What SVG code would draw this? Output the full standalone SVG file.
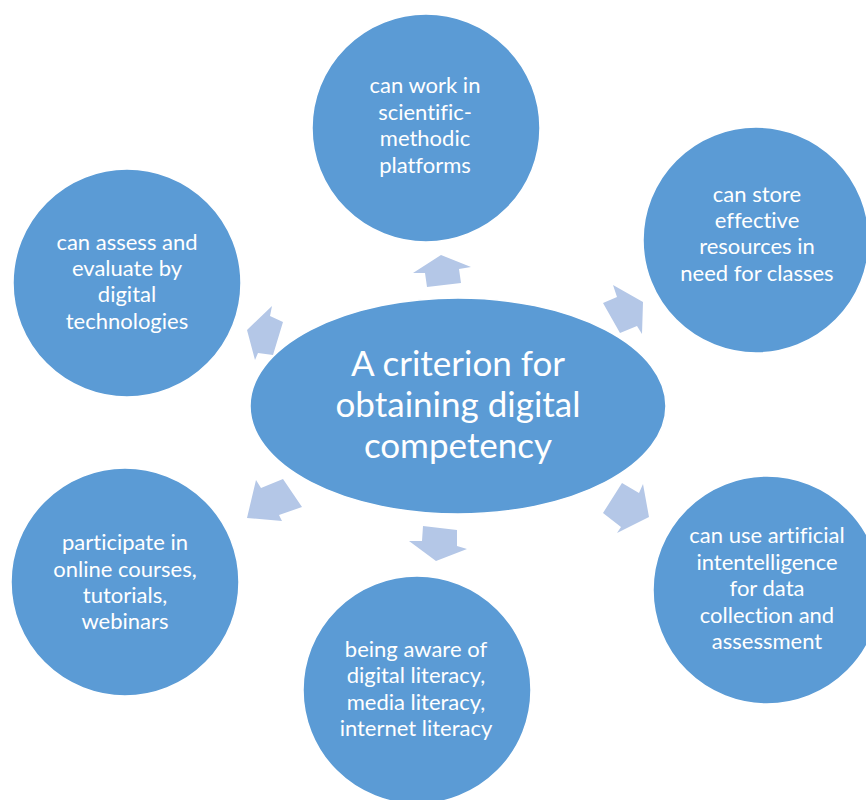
<svg xmlns="http://www.w3.org/2000/svg" width="866" height="800" viewBox="0 0 866 800">
  <style>
    .node { fill: #5B9BD5; stroke: #ffffff; stroke-width: 1.5; }
    .arrow { fill: #B4C7E7; stroke: none; }
    .label { font-family: Lato, "Open Sans", "Liberation Sans", sans-serif; fill: #ffffff; text-anchor: middle; font-size: 22px; font-variant-ligatures: none; }
    .title { font-size: 35px; }
  </style>
  <rect width="866" height="800" fill="#ffffff"/>

  <!-- connectors: block arrows pointing outward from the hub -->
  <g id="connectors">
    <polygon class="arrow" points="441,255 471,267 459,269 461,283 427,287 425,273 413,273"/>
    <polygon class="arrow" points="643,302 642,334 637,326 620,333 603,303 617,297 613,285"/>
    <polygon class="arrow" points="247,330 272,306 270,316 283,322 273,355 258,353 255,360"/>
    <polygon class="arrow" points="247,518 256,480 261,488 283,479 302,507 279,515 282,521"/>
    <polygon class="arrow" points="436,561 467,549 457,546 457,530 423,526 422,541 409,541"/>
    <polygon class="arrow" points="649,517 643,484 639,493 622,483 603,513 621,527 617,533"/>
  </g>

  <g id="hub">
    <ellipse class="node" cx="458" cy="406" rx="208" ry="108"/>
    <text class="label title" x="458" y="376">A criterion for</text>
    <text class="label title" x="458" y="417">obtaining digital</text>
    <text class="label title" x="458" y="458">competency</text>
  </g>

  <g id="node-platforms">
    <circle class="node" cx="426" cy="128" r="114"/>
    <text class="label" x="425" y="93">can work in</text>
    <text class="label" x="425" y="120">scientific-</text>
    <text class="label" x="425" y="146">methodic</text>
    <text class="label" x="425" y="173">platforms</text>
  </g>

  <g id="node-resources">
    <circle class="node" cx="756" cy="240" r="113"/>
    <text class="label" x="757" y="202">can store</text>
    <text class="label" x="757" y="228">effective</text>
    <text class="label" x="757" y="254">resources in</text>
    <text class="label" x="757" y="281">need for classes</text>
  </g>

  <g id="node-assess">
    <circle class="node" cx="127" cy="283" r="114"/>
    <text class="label" x="127" y="250">can assess and</text>
    <text class="label" x="127" y="276">evaluate by</text>
    <text class="label" x="127" y="302">digital</text>
    <text class="label" x="127" y="329">technologies</text>
  </g>

  <g id="node-courses">
    <circle class="node" cx="125" cy="582" r="114"/>
    <text class="label" x="125" y="550">participate in</text>
    <text class="label" x="125" y="577">online courses,</text>
    <text class="label" x="125" y="603">tutorials,</text>
    <text class="label" x="125" y="629">webinars</text>
  </g>

  <g id="node-literacy">
    <circle class="node" cx="417" cy="690" r="114"/>
    <text class="label" x="416" y="657">being aware of</text>
    <text class="label" x="416" y="683">digital literacy,</text>
    <text class="label" x="416" y="710">media literacy,</text>
    <text class="label" x="416" y="736">internet literacy</text>
  </g>

  <g id="node-ai">
    <circle class="node" cx="767" cy="590" r="114"/>
    <text class="label" x="767" y="543">can use artificial</text>
    <text class="label" x="767" y="570">intentelligence</text>
    <text class="label" x="767" y="596">for data</text>
    <text class="label" x="767" y="623">collection and</text>
    <text class="label" x="767" y="649">assessment</text>
  </g>
</svg>
